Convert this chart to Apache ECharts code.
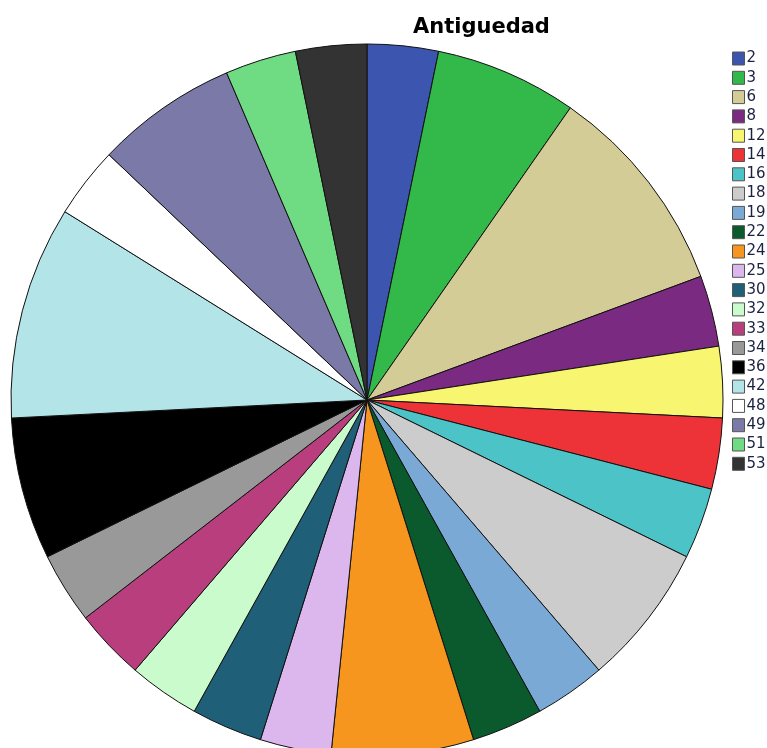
<!DOCTYPE html>
<html>
<head>
<meta charset="utf-8">
<script src="https://cdn.jsdelivr.net/npm/echarts@6/dist/echarts.min.js"></script>
<style>
  html, body { margin: 0; padding: 0; background: #fff; }
  #chart { width: 767px; height: 748px; }
</style>
</head>
<body>
<div id="chart"></div>
<script>
var categories = ['2', '3', '6', '8', '12', '14', '16', '18', '19', '22', '24',
                  '25', '30', '32', '33', '34', '36', '42', '48', '49', '51', '53'];
var counts = [1, 2, 3, 1, 1, 1, 1, 2, 1, 1, 2, 1, 1, 1, 1, 1, 2, 3, 1, 2, 1, 1];
var colors = ['#3c55ae', '#33b84a', '#d3cc96', '#7b2a82', '#f8f570', '#ee3338',
              '#4cc3c6', '#cccccc', '#7aa9d6', '#0b5a2d', '#f7961e', '#dcb7ee',
              '#1f5f78', '#c9fbcc', '#b93e7e', '#999999', '#000000', '#b3e4e8',
              '#ffffff', '#7a79a8', '#6fdb82', '#333333'];

var data = [];
for (var i = 0; i < categories.length; i++) {
    data.push({ name: categories[i], value: counts[i] });
}

var myChart = echarts.init(document.getElementById('chart'));

var option = {
    backgroundColor: '#fff',
    animation: false,
    color: colors,
    title: {
        text: 'Antiguedad',
        left: 408,
        top: 12,
        textStyle: {
            color: '#000',
            fontSize: 21,
            fontWeight: 'bold',
            fontFamily: 'DejaVu Sans'
        }
    },
    legend: {
        orient: 'vertical',
        left: 727,
        top: 46,
        itemWidth: 12,
        itemHeight: 13,
        itemGap: 4.3,
        icon: 'rect',
        selectedMode: false,
        itemStyle: { borderColor: '#555', borderWidth: 1 },
        textStyle: {
            color: '#1b2240',
            fontSize: 15,
            padding: [0, 0, 0, -3],
            fontFamily: 'DejaVu Sans'
        },
        data: categories
    },
    series: [
        {
            type: 'pie',
            center: [367, 400],
            radius: [0, 356],
            startAngle: 90,
            clockwise: true,
            avoidLabelOverlap: false,
            label: { show: false },
            labelLine: { show: false },
            emphasis: { disabled: true },
            itemStyle: { borderColor: '#111', borderWidth: 1 },
            data: data
        }
    ]
};

myChart.setOption(option);
</script>
</body>
</html>
